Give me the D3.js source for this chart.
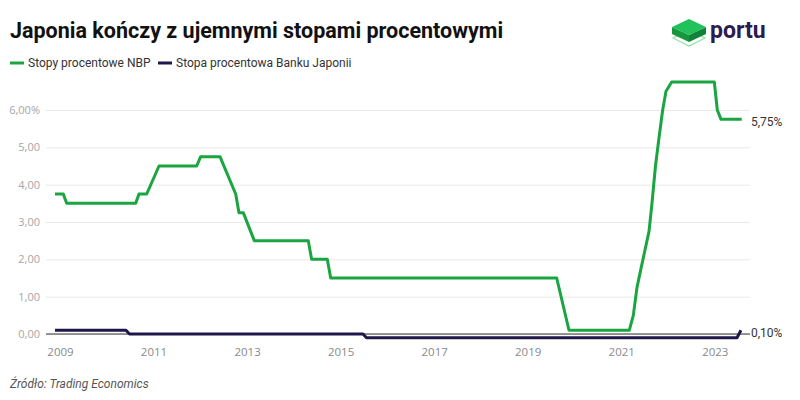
<!DOCTYPE html>
<html>
<head>
<meta charset="UTF-8">
<title>Japonia kończy z ujemnymi stopami procentowymi</title>
<script src="https://cdn.jsdelivr.net/npm/d3@7/dist/d3.min.js"></script>
<style>
  body { margin: 0; background: #fff; }
  text { font-family: Roboto, "Open Sans", sans-serif; }
</style>
</head>
<body>
<div id="chart"></div>
<script>
// NBP rate (%) at decimal-year breakpoints
var nbpYears = [2008.893, 2009.071, 2009.143, 2010.619, 2010.689, 2010.854, 2011.117, 2011.923,
  2012.008, 2012.421, 2012.757, 2012.827, 2012.919, 2013.154, 2014.309, 2014.380, 2014.715,
  2014.788, 2019.620, 2019.883, 2021.172, 2021.258, 2021.337, 2021.422, 2021.508, 2021.594,
  2021.657, 2021.732, 2021.807, 2021.886, 2021.957, 2022.079, 2022.990, 2023.054, 2023.133,
  2023.576];
var nbpValues = [3.75, 3.75, 3.5, 3.5, 3.75, 3.75, 4.5, 4.5,
  4.75, 4.75, 3.75, 3.25, 3.25, 2.5, 2.5, 2.0, 2.0,
  1.5, 1.5, 0.1, 0.1, 0.5, 1.25, 1.75, 2.25, 2.75,
  3.5, 4.5, 5.25, 6.0, 6.5, 6.75, 6.75, 6.0, 5.75,
  5.75];

// Bank of Japan rate (%)
var bojYears = [2008.893, 2010.411, 2010.486, 2015.478, 2015.553, 2023.475, 2023.560];
var bojValues = [0.1, 0.1, 0, 0, -0.1, -0.1, 0.1];

var xTicks = [2009, 2011, 2013, 2015, 2017, 2019, 2021, 2023];
var yTicks = [0, 1, 2, 3, 4, 5, 6];
var yTickLabels = ['0,00', '1,00', '2,00', '3,00', '4,00', '5,00', '6,00%'];
var seriesNames = ['Stopy procentowe NBP', 'Stopa procentowa Banku Japonii'];
var endLabels = ['5,75%', '0,10%'];

var width = 800, height = 400;
var green = '#1aa541', navy = '#21164a';

var svg = d3.select('#chart')
  .append('svg')
  .attr('width', width)
  .attr('height', height);

var x = d3.scaleLinear()
  .domain([2008.701, 2023.753])
  .range([46, 750]);

var y = d3.scaleLinear()
  .domain([0, 6])
  .range([334, 110]);

// title
svg.append('text')
  .attr('x', 10)
  .attr('y', 38)
  .style('font-size', '21.5px')
  .style('font-weight', 700)
  .style('fill', '#111')
  .text('Japonia kończy z ujemnymi stopami procentowymi');

// logo
var logo = svg.append('g');
logo.append('path')
  .attr('d', 'M673,38 L689,46 L705,38 L689,30 Z')
  .attr('fill', 'none')
  .attr('stroke', '#8fe3a5')
  .attr('stroke-width', 1.2);
logo.append('path').attr('d', 'M672,27 L689,35 L689,42 L672,34 Z').attr('fill', '#17963e');
logo.append('path').attr('d', 'M689,35 L706,27 L706,34 L689,42 Z').attr('fill', '#12813a');
logo.append('path').attr('d', 'M672,27 L689,19 L706,27 L689,35 Z').attr('fill', '#22c25a');
logo.append('text')
  .attr('x', 710)
  .attr('y', 38)
  .style('font-size', '23px')
  .style('font-weight', 700)
  .style('fill', '#2a1b50')
  .text('portu');

// legend
var legend = svg.append('g').attr('transform', 'translate(10,63)');
var legendX = [0, 148];
[green, navy].forEach(function(c, i) {
  var g = legend.append('g').attr('transform', 'translate(' + legendX[i] + ',0)');
  g.append('line').attr('x1', 0).attr('x2', 14).attr('y1', 0).attr('y2', 0)
    .attr('stroke', c).attr('stroke-width', 3);
  g.append('text').attr('x', 18).attr('dy', '0.35em')
    .style('font-size', '12px').style('fill', '#333')
    .text(seriesNames[i]);
});

// grid
var yAxis = svg.append('g')
  .attr('transform', 'translate(46,0)')
  .call(d3.axisLeft(y).tickValues(yTicks).tickSize(-704).tickPadding(6)
    .tickFormat(function(d, i) { return yTickLabels[i]; }));
yAxis.select('.domain').remove();
yAxis.selectAll('line').attr('stroke', '#e8e8e8');
yAxis.selectAll('text')
  .style('font-family', '"Open Sans", sans-serif')
  .style('font-size', '11px')
  .style('fill', '#a6a6a6');

// baseline
svg.append('line')
  .attr('x1', 46).attr('x2', 750)
  .attr('y1', y(0)).attr('y2', y(0))
  .attr('stroke', '#333').attr('stroke-width', 1);

// x axis
var xAxis = svg.append('g')
  .attr('transform', 'translate(0,' + y(0) + ')')
  .call(d3.axisBottom(x).tickValues(xTicks).tickSize(0).tickPadding(14)
    .tickFormat(d3.format('d')));
xAxis.select('.domain').remove();
xAxis.selectAll('text')
  .style('font-family', '"Open Sans", sans-serif')
  .style('font-size', '11.5px')
  .style('fill', '#8a8a8a');

var line = d3.line()
  .x(function(d) { return x(d[0]); })
  .y(function(d) { return y(d[1]); });

var bojData = d3.zip(bojYears, bojValues);
var nbpData = d3.zip(nbpYears, nbpValues);

svg.append('path')
  .datum(bojData)
  .attr('d', line)
  .attr('fill', 'none')
  .attr('stroke', navy)
  .attr('stroke-width', 3)
  .attr('stroke-linejoin', 'round');

svg.append('path')
  .datum(nbpData)
  .attr('d', line)
  .attr('fill', 'none')
  .attr('stroke', green)
  .attr('stroke-width', 3)
  .attr('stroke-linejoin', 'round');

// end labels
svg.append('text')
  .attr('x', 751)
  .attr('y', y(nbpValues[nbpValues.length - 1]) + 2)
  .attr('dy', '0.35em')
  .style('font-size', '12px')
  .style('fill', '#333')
  .text(endLabels[0]);

svg.append('text')
  .attr('x', 751)
  .attr('y', y(0) - 1)
  .attr('dy', '0.35em')
  .style('font-size', '12px')
  .style('fill', '#333')
  .text(endLabels[1]);

// source
svg.append('text')
  .attr('x', 10)
  .attr('y', 388)
  .style('font-size', '12px')
  .style('font-style', 'italic')
  .style('fill', '#555')
  .text('Źródło: Trading Economics');
</script>
</body>
</html>
